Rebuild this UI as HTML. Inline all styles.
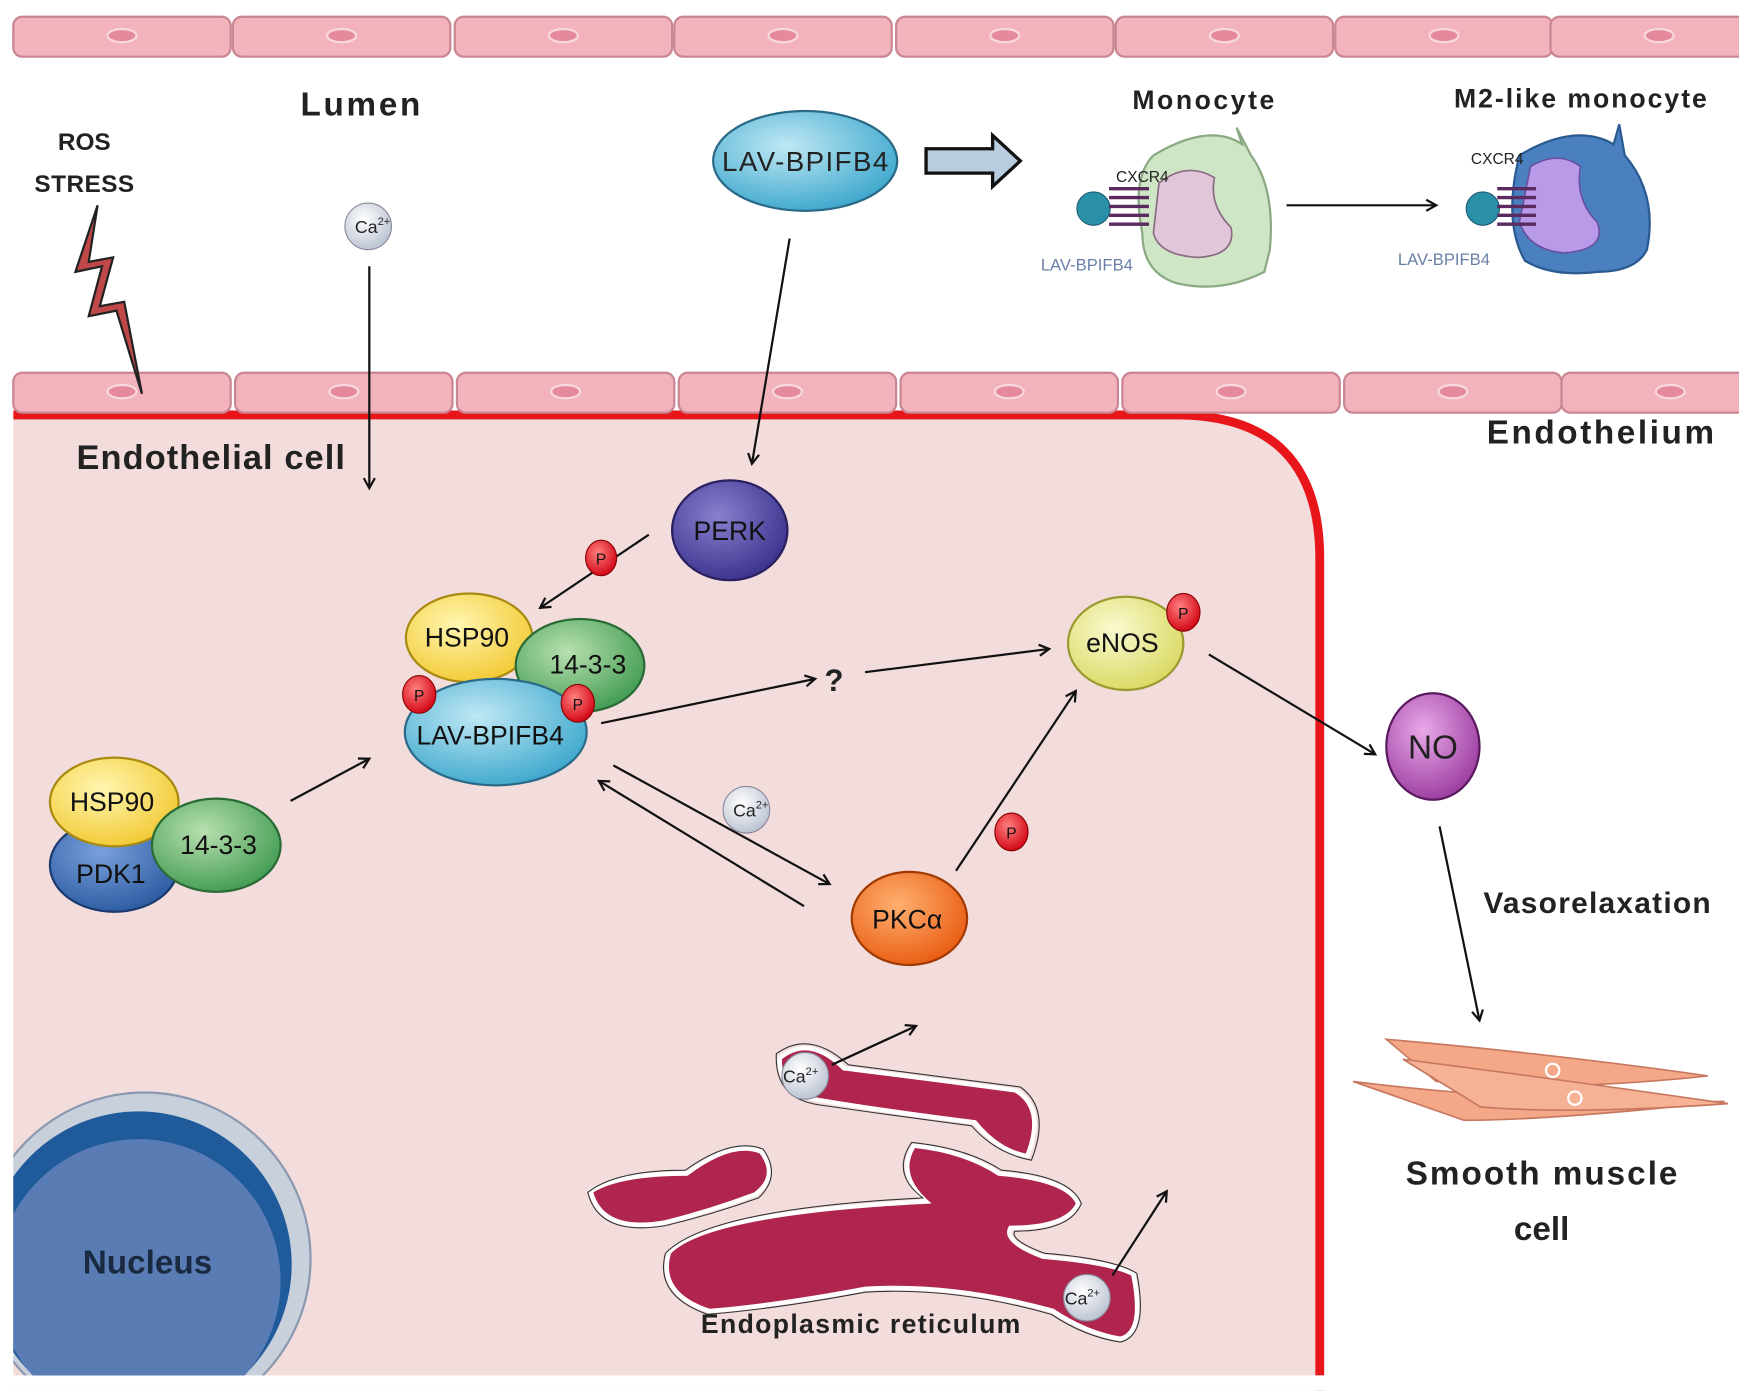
<!DOCTYPE html>
<html><head><meta charset="utf-8"><style>
html,body{margin:0;padding:0;background:#fff;width:1739px;height:1391px;overflow:hidden}
text{font-family:"Liberation Sans",sans-serif;}
</style></head><body>
<svg width="1739" height="1391" viewBox="0 0 1568 1254" xmlns="http://www.w3.org/2000/svg">
<defs>
<marker id="a" markerWidth="12" markerHeight="12" refX="10" refY="6" orient="auto" markerUnits="userSpaceOnUse"><path d="M1,1 L10,6 L1,11" fill="none" stroke="#111" stroke-width="2"/></marker>
<radialGradient id="gb" cx="40%" cy="35%" r="70%"><stop offset="0" stop-color="#bfe8f4"/><stop offset="1" stop-color="#3aa6cc"/></radialGradient>
<radialGradient id="gy" cx="40%" cy="35%" r="70%"><stop offset="0" stop-color="#fff6b0"/><stop offset="1" stop-color="#f2c830"/></radialGradient>
<radialGradient id="gg" cx="40%" cy="35%" r="70%"><stop offset="0" stop-color="#b8e0b0"/><stop offset="1" stop-color="#3f9a50"/></radialGradient>
<radialGradient id="gd" cx="40%" cy="35%" r="70%"><stop offset="0" stop-color="#7aa0dc"/><stop offset="1" stop-color="#2a5aa0"/></radialGradient>
<radialGradient id="gp" cx="40%" cy="35%" r="70%"><stop offset="0" stop-color="#8a80d0"/><stop offset="1" stop-color="#38308a"/></radialGradient>
<radialGradient id="ge" cx="40%" cy="35%" r="70%"><stop offset="0" stop-color="#fafad0"/><stop offset="1" stop-color="#d8d860"/></radialGradient>
<radialGradient id="gn" cx="40%" cy="35%" r="70%"><stop offset="0" stop-color="#e8a8e8"/><stop offset="1" stop-color="#9a3a9e"/></radialGradient>
<radialGradient id="go" cx="40%" cy="35%" r="70%"><stop offset="0" stop-color="#ffb070"/><stop offset="1" stop-color="#e85a10"/></radialGradient>
<radialGradient id="gr" cx="40%" cy="35%" r="70%"><stop offset="0" stop-color="#ff8080"/><stop offset="1" stop-color="#d00010"/></radialGradient>
<radialGradient id="gc" cx="40%" cy="35%" r="70%"><stop offset="0" stop-color="#ffffff"/><stop offset="1" stop-color="#b8c0d0"/></radialGradient>
<clipPath id="cl"><rect x="12" y="370" width="1200" height="870"/></clipPath>
<g id="ecell"><rect x="0" y="0" width="196" height="36" rx="8" fill="#f2b3bd" stroke="#c98592" stroke-width="2"/><ellipse cx="98" cy="17" rx="13" ry="6" fill="#e58a9c" stroke="#f8d8de" stroke-width="2"/></g>
</defs>
<!-- cell body -->
<path d="M-20,374 H1060 Q1190,374 1190,504 V1300 H-20 Z" fill="#f3dcdc" stroke="#e8161b" stroke-width="8"/>
<rect x="0" y="1240" width="1568" height="14" fill="#fff"/>
<rect x="0" y="366" width="12" height="888" fill="#fff"/>
<!-- endothelium rows -->
<g>
<use href="#ecell" x="12" y="15"/><use href="#ecell" x="210" y="15"/><use href="#ecell" x="410" y="15"/><use href="#ecell" x="608" y="15"/><use href="#ecell" x="808" y="15"/><use href="#ecell" x="1006" y="15"/><use href="#ecell" x="1204" y="15"/><use href="#ecell" x="1398" y="15"/>
<use href="#ecell" x="12" y="336"/><use href="#ecell" x="212" y="336"/><use href="#ecell" x="412" y="336"/><use href="#ecell" x="612" y="336"/><use href="#ecell" x="812" y="336"/><use href="#ecell" x="1012" y="336"/><use href="#ecell" x="1212" y="336"/><use href="#ecell" x="1408" y="336"/>
</g>
<!-- labels top -->
<text x="325" y="104" font-size="30" font-weight="bold" text-anchor="middle" fill="#222" textLength="108">Lumen</text>
<text x="76" y="135" font-size="22" font-weight="bold" text-anchor="middle" fill="#222">ROS</text>
<text x="76" y="173" font-size="22" font-weight="bold" text-anchor="middle" fill="#222" textLength="90">STRESS</text>
<path d="M88,185 L68,245 L92,240 L80,285 L105,280 L128,355 L112,272 L90,276 L102,232 L80,236 Z" fill="#c04848" stroke="#222" stroke-width="2"/>
<!-- Ca lumen -->
<circle cx="332" cy="204" r="21" fill="url(#gc)" stroke="#889" stroke-width="1"/>
<text x="320" y="210" font-size="16" fill="#222">Ca<tspan font-size="10" dy="-7">2+</tspan></text>
<line x1="333" y1="240" x2="333" y2="440" stroke="#111" stroke-width="2" marker-end="url(#a)"/>
<!-- LAV top -->
<ellipse cx="726" cy="145" rx="83" ry="45" fill="url(#gb)" stroke="#2a6a88" stroke-width="2"/>
<text x="726" y="154" font-size="25" text-anchor="middle" fill="#222" textLength="150">LAV-BPIFB4</text>
<line x1="712" y1="215" x2="678" y2="418" stroke="#111" stroke-width="2" marker-end="url(#a)"/>
<path d="M835,134 H895 V122 L920,145 L895,168 V156 H835 Z" fill="#b8cde0" stroke="#111" stroke-width="3"/>
<!-- monocytes -->
<text x="1085" y="98" font-size="24" font-weight="bold" text-anchor="middle" fill="#222" textLength="128">Monocyte</text>
<text x="1425" y="97" font-size="24" font-weight="bold" text-anchor="middle" fill="#222" textLength="228">M2-like monocyte</text>
<path d="M1040,140 Q1090,110 1120,130 L1115,115 L1128,140 Q1150,170 1145,225 L1140,245 Q1100,265 1060,255 Q1030,245 1030,210 Q1020,160 1040,140 Z" fill="#cfe6c6" stroke="#8aa882" stroke-width="2"/>
<path d="M1045,165 Q1070,145 1095,160 Q1090,185 1110,205 Q1115,230 1080,232 Q1045,230 1040,210 Z" fill="#e0c6d8" stroke="#8a6a80" stroke-width="1.5"/>
<circle cx="986" cy="188" r="15" fill="#2a90a8" stroke="#1a5a70"/>
<g stroke="#5a2a60" stroke-width="3" fill="none"><path d="M1000,170 H1036 M1000,178 H1036 M1000,186 H1036 M1000,194 H1036 M1000,202 H1036"/></g>
<text x="1030" y="164" font-size="14" text-anchor="middle" fill="#222">CXCR4</text>
<text x="980" y="244" font-size="15" text-anchor="middle" fill="#6a80a8">LAV-BPIFB4</text>
<line x1="1160" y1="185" x2="1295" y2="185" stroke="#111" stroke-width="2" marker-end="url(#a)"/>
<path d="M1370,140 Q1420,110 1455,130 L1460,112 L1465,140 Q1495,175 1485,225 Q1475,245 1440,245 Q1400,250 1375,235 Q1355,200 1370,140 Z" fill="#4a80c0" stroke="#2a5a90" stroke-width="2"/>
<path d="M1380,150 Q1405,135 1425,150 Q1420,180 1440,200 Q1450,225 1410,228 Q1378,225 1370,200 Z" fill="#b89ae8" stroke="#6a50a0" stroke-width="1.5"/>
<circle cx="1337" cy="188" r="15" fill="#2a90a8" stroke="#1a5a70"/>
<g stroke="#5a2a60" stroke-width="3" fill="none"><path d="M1350,170 H1385 M1350,178 H1385 M1350,186 H1385 M1350,194 H1385 M1350,202 H1385"/></g>
<text x="1350" y="148" font-size="14" text-anchor="middle" fill="#222">CXCR4</text>
<text x="1302" y="239" font-size="15" text-anchor="middle" fill="#6a80a8">LAV-BPIFB4</text>
<!-- labels -->
<text x="1443" y="400" font-size="30" font-weight="bold" text-anchor="middle" fill="#222" textLength="205">Endothelium</text>
<text x="190" y="423" font-size="31" font-weight="bold" text-anchor="middle" fill="#222" textLength="242">Endothelial cell</text>
<!-- PERK -->
<ellipse cx="658" cy="478" rx="52" ry="45" fill="url(#gp)" stroke="#2a2060" stroke-width="2"/>
<text x="658" y="487" font-size="24" text-anchor="middle" fill="#111">PERK</text>
<line x1="585" y1="482" x2="487" y2="548" stroke="#111" stroke-width="2" marker-end="url(#a)"/>
<ellipse cx="542" cy="503" rx="14" ry="16" fill="url(#gr)" stroke="#800"/><text x="542" y="509" font-size="14" text-anchor="middle" fill="#111">P</text>
<!-- central complex -->
<ellipse cx="423" cy="575" rx="57" ry="40" fill="url(#gy)" stroke="#a88a10" stroke-width="2"/>
<ellipse cx="523" cy="600" rx="58" ry="42" fill="url(#gg)" stroke="#2a6a35" stroke-width="2"/>
<ellipse cx="447" cy="660" rx="82" ry="48" fill="url(#gb)" stroke="#2a6a88" stroke-width="2"/>
<text x="421" y="583" font-size="24" text-anchor="middle" fill="#111">HSP90</text>
<text x="530" y="607" font-size="24" text-anchor="middle" fill="#111">14-3-3</text>
<text x="442" y="671" font-size="24" text-anchor="middle" fill="#111">LAV-BPIFB4</text>
<ellipse cx="378" cy="626" rx="15" ry="17" fill="url(#gr)" stroke="#800"/><text x="378" y="632" font-size="14" text-anchor="middle" fill="#111">P</text>
<ellipse cx="521" cy="634" rx="15" ry="17" fill="url(#gr)" stroke="#800"/><text x="521" y="640" font-size="14" text-anchor="middle" fill="#111">P</text>
<!-- left complex -->
<ellipse cx="103" cy="780" rx="58" ry="42" fill="url(#gd)" stroke="#1a3a70" stroke-width="2"/>
<ellipse cx="103" cy="723" rx="58" ry="40" fill="url(#gy)" stroke="#a88a10" stroke-width="2"/>
<ellipse cx="195" cy="762" rx="58" ry="42" fill="url(#gg)" stroke="#2a6a35" stroke-width="2"/>
<text x="101" y="731" font-size="24" text-anchor="middle" fill="#111">HSP90</text>
<text x="100" y="796" font-size="24" text-anchor="middle" fill="#111">PDK1</text>
<text x="197" y="770" font-size="24" text-anchor="middle" fill="#111">14-3-3</text>
<line x1="262" y1="722" x2="333" y2="684" stroke="#111" stroke-width="2" marker-end="url(#a)"/>
<!-- ? path -->
<line x1="542" y1="652" x2="735" y2="612" stroke="#111" stroke-width="2" marker-end="url(#a)"/>
<text x="752" y="623" font-size="28" font-weight="bold" text-anchor="middle" fill="#222">?</text>
<line x1="780" y1="606" x2="946" y2="585" stroke="#111" stroke-width="2" marker-end="url(#a)"/>
<!-- eNOS -->
<ellipse cx="1015" cy="580" rx="52" ry="42" fill="url(#ge)" stroke="#9a9a30" stroke-width="2"/>
<text x="1012" y="588" font-size="24" text-anchor="middle" fill="#111">eNOS</text>
<ellipse cx="1067" cy="552" rx="15" ry="17" fill="url(#gr)" stroke="#800"/><text x="1067" y="558" font-size="14" text-anchor="middle" fill="#111">P</text>
<line x1="1090" y1="590" x2="1240" y2="680" stroke="#111" stroke-width="2" marker-end="url(#a)"/>
<!-- NO -->
<ellipse cx="1292" cy="673" rx="42" ry="48" fill="url(#gn)" stroke="#5a1a60" stroke-width="2"/>
<text x="1292" y="684" font-size="30" text-anchor="middle" fill="#222">NO</text>
<line x1="1298" y1="745" x2="1334" y2="920" stroke="#111" stroke-width="2" marker-end="url(#a)"/>
<text x="1440" y="823" font-size="27" font-weight="bold" text-anchor="middle" fill="#222" textLength="205">Vasorelaxation</text>
<!-- smooth muscle -->
<path d="M1250,937 Q1400,950 1540,970 Q1400,985 1295,975 Z" fill="#f4a888" stroke="#c87860" stroke-width="1.5"/>
<path d="M1220,975 Q1380,995 1555,993 Q1400,1010 1320,1010 Z" fill="#f4a888" stroke="#c87860" stroke-width="1.5"/>
<path d="M1265,955 Q1420,975 1558,995 Q1420,1005 1335,998 Z" fill="#f6b294" stroke="#c87860" stroke-width="1.5"/>
<circle cx="1400" cy="965" r="6" fill="none" stroke="#fff" stroke-width="2"/><circle cx="1420" cy="990" r="6" fill="none" stroke="#fff" stroke-width="2"/>
<text x="1390" y="1068" font-size="30" font-weight="bold" text-anchor="middle" fill="#222" textLength="245">Smooth muscle</text>
<text x="1390" y="1118" font-size="30" font-weight="bold" text-anchor="middle" fill="#222">cell</text>
<!-- double arrows + Ca -->
<line x1="553" y1="690" x2="748" y2="797" stroke="#111" stroke-width="2" marker-end="url(#a)"/>
<line x1="725" y1="817" x2="540" y2="704" stroke="#111" stroke-width="2" marker-end="url(#a)"/>
<circle cx="673" cy="730" r="21" fill="url(#gc)" stroke="#889"/>
<text x="661" y="736" font-size="16" fill="#222">Ca<tspan font-size="10" dy="-7">2+</tspan></text>
<!-- PKC -->
<ellipse cx="820" cy="828" rx="52" ry="42" fill="url(#go)" stroke="#a03a00" stroke-width="2"/>
<text x="818" y="837" font-size="24" text-anchor="middle" fill="#111">PKCα</text>
<line x1="862" y1="785" x2="970" y2="623" stroke="#111" stroke-width="2" marker-end="url(#a)"/>
<ellipse cx="912" cy="750" rx="15" ry="17" fill="url(#gr)" stroke="#800"/><text x="912" y="756" font-size="14" text-anchor="middle" fill="#111">P</text>
<!-- nucleus -->
<g clip-path="url(#cl)">
<circle cx="130" cy="1135" r="150" fill="#c8d0dc" stroke="#8a98b0" stroke-width="2"/>
<circle cx="125" cy="1140" r="138" fill="#1f5a9a"/>
<circle cx="125" cy="1155" r="128" fill="#5a7cb4"/>
</g>
<text x="133" y="1148" font-size="30" font-weight="bold" text-anchor="middle" fill="#1a2a40">Nucleus</text>
<!-- ER -->
<g fill="#b0254e" stroke="#fff" stroke-width="8" paint-order="stroke">
<path d="M705,955 Q730,935 760,965 Q840,975 915,985 Q940,1000 925,1040 Q900,1035 880,1010 Q800,1000 740,990 Q705,985 705,955 Z"/>
<path d="M535,1075 Q560,1060 620,1060 Q660,1030 685,1040 Q700,1060 680,1075 Q640,1090 600,1100 Q545,1110 535,1075 Z"/>
<path d="M605,1130 Q640,1095 840,1085 Q810,1060 825,1035 Q870,1040 900,1060 Q960,1065 970,1085 Q960,1105 910,1105 Q900,1120 940,1135 Q1000,1140 1020,1150 Q1030,1200 1010,1205 Q980,1200 950,1180 Q860,1155 780,1160 Q700,1175 640,1180 Q595,1165 605,1130 Z"/>
</g>
<g fill="none" stroke="#333" stroke-width="1">
<path d="M700,950 Q730,928 765,960 Q845,970 920,980 Q948,1000 930,1046 Q898,1040 876,1015 Q800,1005 738,996 Q698,990 700,950 Z"/>
<path d="M530,1075 Q555,1055 618,1055 Q660,1025 688,1036 Q705,1060 684,1080 Q642,1095 600,1105 Q540,1115 530,1075 Z"/>
<path d="M600,1130 Q638,1090 832,1080 Q803,1058 822,1030 Q872,1035 903,1055 Q965,1060 975,1085 Q965,1110 915,1110 Q910,1118 942,1130 Q1004,1135 1025,1148 Q1036,1204 1010,1210 Q978,1205 948,1185 Q860,1160 780,1165 Q700,1180 638,1185 Q590,1168 600,1130 Z"/>
</g>
<circle cx="726" cy="970" r="21" fill="url(#gc)" stroke="#889"/>
<text x="706" y="976" font-size="16" fill="#222">Ca<tspan font-size="10" dy="-7">2+</tspan></text>
<line x1="750" y1="960" x2="826" y2="925" stroke="#111" stroke-width="2" marker-end="url(#a)"/>
<circle cx="980" cy="1170" r="21" fill="url(#gc)" stroke="#889"/>
<text x="960" y="1176" font-size="16" fill="#222">Ca<tspan font-size="10" dy="-7">2+</tspan></text>
<line x1="1003" y1="1150" x2="1052" y2="1074" stroke="#111" stroke-width="2" marker-end="url(#a)"/>
<text x="776" y="1202" font-size="24" font-weight="bold" text-anchor="middle" fill="#222" textLength="288">Endoplasmic reticulum</text>
</svg>
</body></html>
